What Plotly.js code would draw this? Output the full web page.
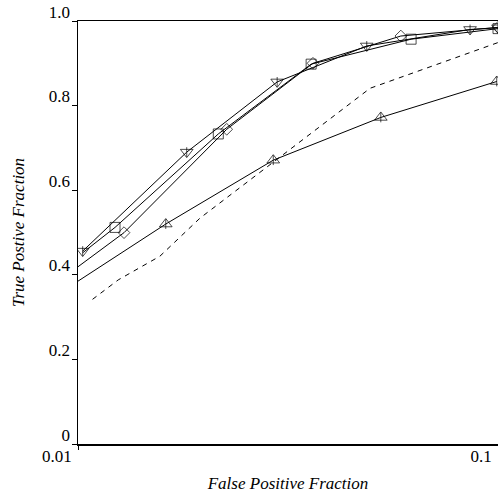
<!DOCTYPE html>
<html>
<head>
<meta charset="utf-8">
<script src="https://cdn.plot.ly/plotly-3.0.1.min.js"></script>
<style>html,body{margin:0;padding:0;background:#fff;}#chart{width:498px;height:495px;}</style>
</head>
<body>
<div id="chart"></div>
<script>
// Data
var downX = [0.01026, 0.01815, 0.0298, 0.0487, 0.0858, 0.1];
var downY = [0.456, 0.690, 0.856, 0.941, 0.980, 0.984];

var squareX = [0.01026, 0.01225, 0.02158, 0.0359, 0.0621, 0.1];
var squareY = [0.452, 0.512, 0.733, 0.898, 0.957, 0.982];

var diamondX = [0.01, 0.01287, 0.0226, 0.03626, 0.0587, 0.1];
var diamondY = [0.419, 0.4996, 0.744, 0.900, 0.9645, 0.985];

var upX = [0.01, 0.01618, 0.02917, 0.0526, 0.0993];
var upY = [0.385, 0.520, 0.671, 0.772, 0.857];

var dashX = [0.01083, 0.01247, 0.01567, 0.01952, 0.0496, 0.1];
var dashY = [0.342, 0.388, 0.444, 0.534, 0.841, 0.949];

var xTickVals = [0.01, 0.1];
var xTickText = ["0.01", "0.1"];
var yTickVals = [0, 0.2, 0.4, 0.6, 0.8, 1.0];
var yTickText = ["0", "0.2", "0.4", "0.6", "0.8", "1.0"];

function sizes(arr, hideFirst, s) {
  return arr.map(function (_, i) { return (hideFirst && i === 0) ? 0 : s; });
}
function lineTrace(x, y, symbol, hideFirst, s) {
  return {
    x: x, y: y, type: 'scatter', mode: 'lines+markers',
    line: {color: '#000', width: 1},
    marker: {symbol: symbol, size: sizes(x, hideFirst, s), color: '#000', line: {color: '#000', width: 1}},
    showlegend: false, hoverinfo: 'skip'
  };
}
function tickTrace(x, y, hideFirst) {
  return {
    x: x, y: y, type: 'scatter', mode: 'markers',
    marker: {symbol: 'line-ns-open', size: sizes(x, hideFirst, 7), color: '#000', line: {color: '#000', width: 1}},
    showlegend: false, hoverinfo: 'skip'
  };
}

var traces = [
  {x: dashX, y: dashY, type: 'scatter', mode: 'lines', line: {color: '#000', width: 1, dash: '5px,5px'}, showlegend: false, hoverinfo: 'skip'},
  lineTrace(upX, upY, 'triangle-up-open', true, 11),
  tickTrace(upX, upY, true),
  lineTrace(diamondX, diamondY, 'diamond-open', true, 9),
  lineTrace(squareX, squareY, 'square-open', true, 10),
  lineTrace(downX, downY, 'triangle-down-open', false, 11),
  tickTrace(downX, downY, false)
];

var serif = "'Liberation Serif', 'Times New Roman', serif";
var layout = {
  width: 498, height: 495,
  margin: {l: 78, r: 0, t: 21, b: 51, pad: 0},
  paper_bgcolor: '#fff', plot_bgcolor: '#fff',
  font: {family: serif, size: 17, color: '#000'},
  xaxis: {
    type: 'log', range: [-2, -1],
    tickvals: xTickVals, ticktext: xTickText,
    ticks: 'outside', ticklen: 4, tickwidth: 1, tickcolor: '#000',
    ticklabelposition: 'outside left', ticklabeloverflow: 'allow',
    ticklabelshift: -5, ticklabelstandoff: -4,
    showline: true, linecolor: '#000', linewidth: 1.5, mirror: true,
    showgrid: false, zeroline: false,
    tickfont: {family: serif, size: 17, color: '#000'},
    title: {text: 'False Positive Fraction', font: {family: serif, size: 17, style: 'italic', color: '#000'}, standoff: 12}
  },
  yaxis: {
    range: [0, 1],
    tickvals: yTickVals, ticktext: yTickText,
    ticks: 'outside', ticklen: 5, tickwidth: 1, tickcolor: '#000',
    ticklabelposition: 'outside top', ticklabeloverflow: 'allow',
    ticklabelshift: 3, ticklabelstandoff: 3,
    showline: true, linecolor: '#000', linewidth: 1.5,
    showgrid: false, zeroline: false,
    tickfont: {family: serif, size: 17, color: '#000'},
    title: {text: 'True Postive Fraction', font: {family: serif, size: 17, style: 'italic', color: '#000'}, standoff: 20}
  }
};

Plotly.newPlot('chart', traces, layout, {staticPlot: true, displayModeBar: false});
</script>
</body>
</html>
